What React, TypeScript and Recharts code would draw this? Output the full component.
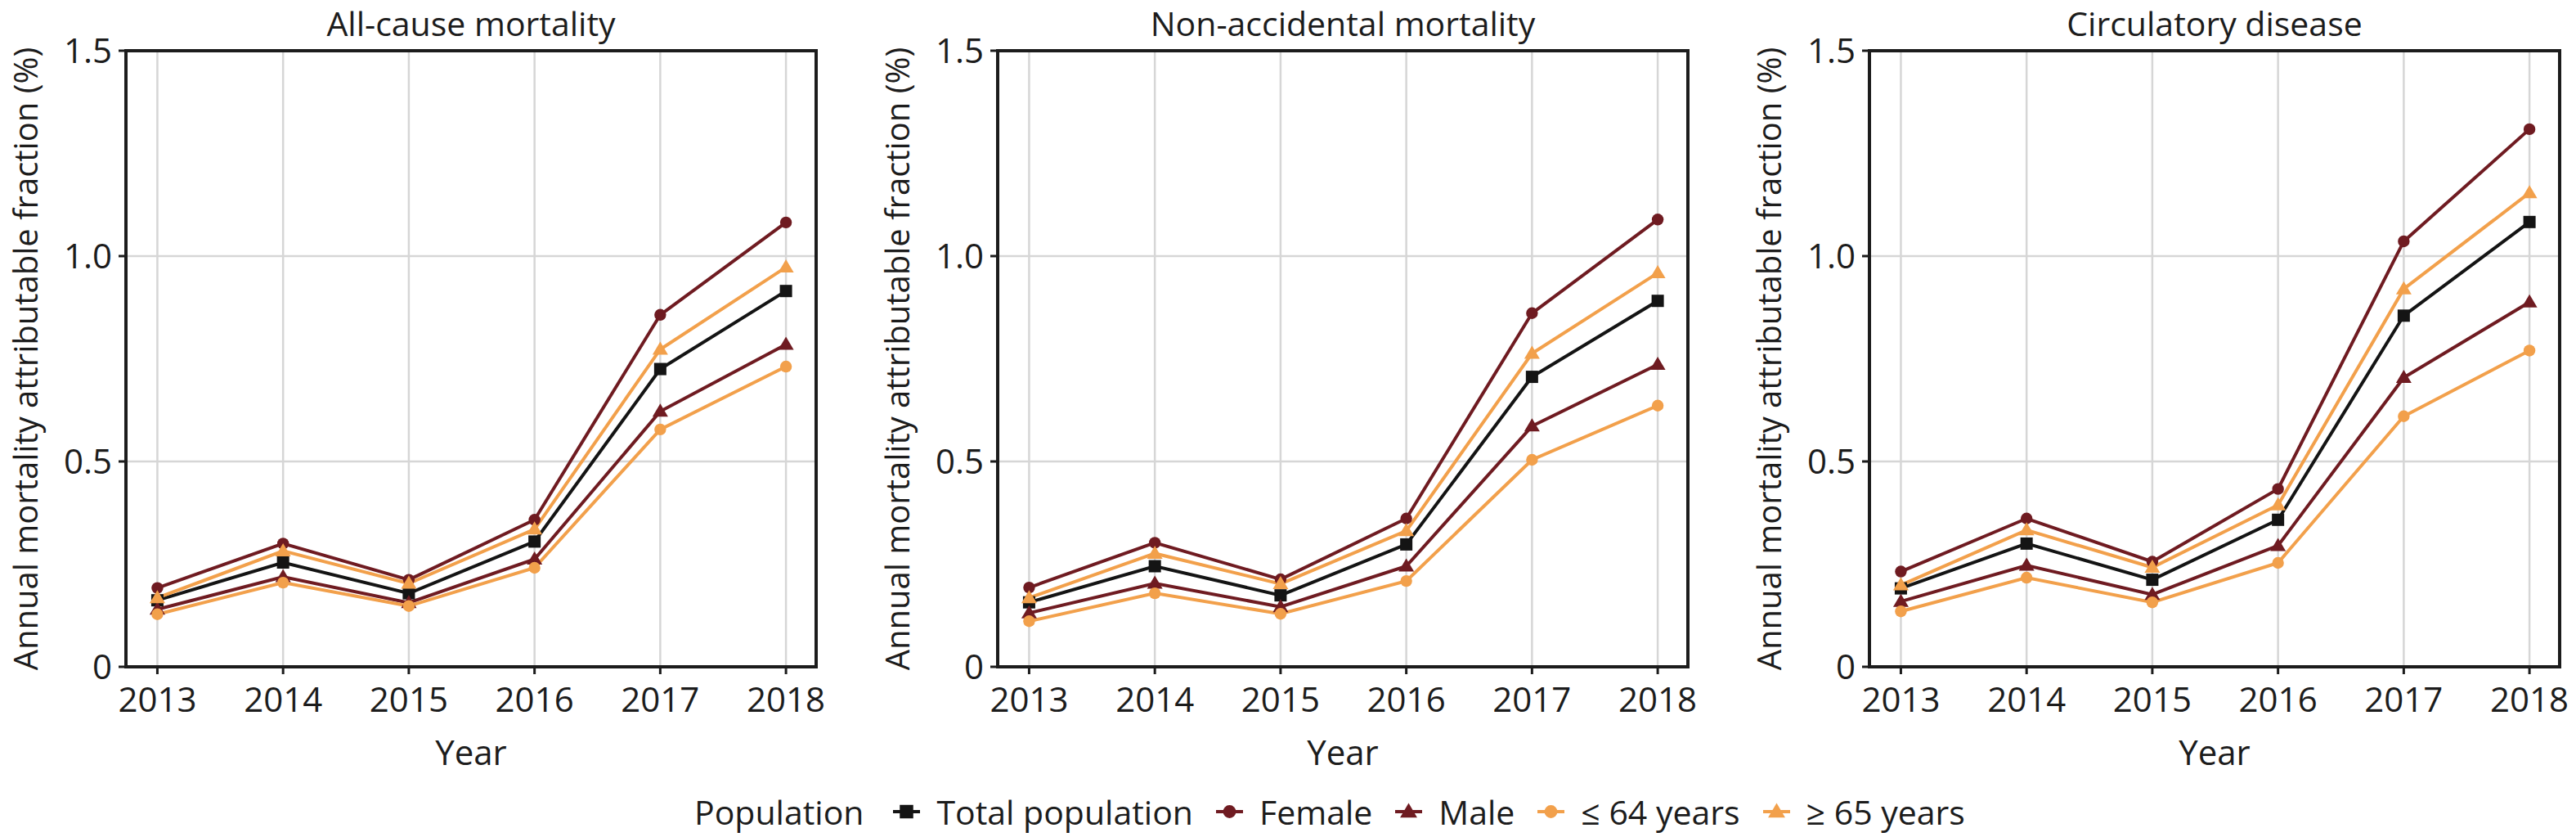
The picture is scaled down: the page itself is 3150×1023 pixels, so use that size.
import React from 'react';
import { LineChart, Line, XAxis, YAxis, CartesianGrid, ReferenceArea } from 'recharts';

const years = [2013, 2014, 2015, 2016, 2017, 2018];
const yTicks = [0, 0.5, 1.0, 1.5];
const panelTitles = ['All-cause mortality', 'Non-accidental mortality', 'Circulatory disease'];
const seriesNames = ['Total population', 'Female', 'Male', '≤ 64 years', '≥ 65 years'];

// All-cause mortality
const allTotal = [0.162, 0.254, 0.179, 0.305, 0.725, 0.915];
const allFemale = [0.192, 0.300, 0.212, 0.358, 0.857, 1.082];
const allMale = [0.140, 0.219, 0.156, 0.262, 0.622, 0.785];
const allLe64 = [0.128, 0.205, 0.148, 0.241, 0.578, 0.731];
const allGe65 = [0.168, 0.282, 0.203, 0.335, 0.773, 0.973];

// Non-accidental mortality
const nonTotal = [0.157, 0.245, 0.174, 0.298, 0.706, 0.891];
const nonFemale = [0.193, 0.302, 0.213, 0.361, 0.861, 1.089];
const nonMale = [0.131, 0.203, 0.146, 0.245, 0.586, 0.736];
const nonLe64 = [0.111, 0.179, 0.129, 0.209, 0.504, 0.636];
const nonGe65 = [0.168, 0.276, 0.202, 0.331, 0.763, 0.959];

// Circulatory disease
const cirTotal = [0.191, 0.300, 0.212, 0.358, 0.855, 1.083];
const cirFemale = [0.232, 0.361, 0.256, 0.433, 1.036, 1.309];
const cirMale = [0.159, 0.247, 0.176, 0.295, 0.704, 0.888];
const cirLe64 = [0.135, 0.217, 0.157, 0.253, 0.610, 0.770];
const cirGe65 = [0.199, 0.333, 0.242, 0.394, 0.920, 1.154];

const FONT = '"Open Sans", "Noto Sans", sans-serif';
const TEXT = '#1c1c1c';
const DARKRED = '#6f1b21';
const ORANGE = '#f2a04b';
const BLACK = '#141414';
const GRID = '#d6d6d6';
const AXIS = '#1c1c1c';

const X_MIN = 2012.75;
const X_MAX = 2018.24;
const Y_MIN = 0;
const Y_MAX = 1.5;

const seriesKeys = ['total', 'female', 'male', 'le64', 'ge65'];
const seriesColors = [BLACK, DARKRED, DARKRED, ORANGE, ORANGE];
const seriesShapes = ['square', 'circle', 'triangle', 'circle', 'triangle'];

const panels = [
  [allTotal, allFemale, allMale, allLe64, allGe65],
  [nonTotal, nonFemale, nonMale, nonLe64, nonGe65],
  [cirTotal, cirFemale, cirMale, cirLe64, cirGe65],
];

function buildRows(set: number[][]) {
  return years.map((y, i) => {
    const row: any = { year: y };
    seriesKeys.forEach((k, j) => {
      row[k] = set[j][i];
    });
    return row;
  });
}

function Marker({ shape, color, cx, cy, s = 1 }: any) {
  if (shape === 'square') {
    const h = 7.5 * s;
    return <rect x={cx - h} y={cy - h} width={2 * h} height={2 * h} fill={color} />;
  }
  if (shape === 'circle') {
    return <circle cx={cx} cy={cy} r={7.2 * s} fill={color} />;
  }
  const w = 9.5 * s;
  return (
    <polygon
      points={`${cx},${cy - 9.5 * s} ${cx - w},${cy + 6.5 * s} ${cx + w},${cy + 6.5 * s}`}
      fill={color}
    />
  );
}

const makeDot = (shape: string, color: string) => (props: any) => {
  const { cx, cy, index } = props;
  if (cx == null || cy == null) return <g key={`d-${index}`} />;
  return (
    <g key={`d-${index}`}>
      <Marker shape={shape} color={color} cx={cx} cy={cy} />
    </g>
  );
};

const CHART_H = 960;
const PLOT_TOP = 62;
const PLOT_BOTTOM = 815;
const YAXIS_W = 154;
const PLOT_W = 844;

function Panel({ idx }: { idx: number }) {
  const data = buildRows(panels[idx]);
  const rightMargin = idx === 2 ? 20 : 68;
  const width = YAXIS_W + PLOT_W + rightMargin;
  return (
    <div style={{ position: 'absolute', left: idx * 1066, top: 0, width, height: CHART_H }}>
      <LineChart
        width={width}
        height={CHART_H}
        data={data}
        margin={{ top: PLOT_TOP, right: rightMargin, bottom: 0, left: 0 }}
      >
        <CartesianGrid stroke={GRID} strokeWidth={2.5} />
        <XAxis
          dataKey="year"
          type="number"
          domain={[X_MIN, X_MAX]}
          ticks={years}
          allowDataOverflow
          height={CHART_H - PLOT_BOTTOM}
          tickSize={9}
          tickMargin={16}
          axisLine={{ stroke: AXIS, strokeWidth: 4 }}
          tickLine={{ stroke: AXIS, strokeWidth: 3 }}
          tick={{ fill: TEXT, fontSize: 42, fontFamily: FONT }}
          label={{
            content: (p: any) => {
              const vb = p.viewBox;
              return (
                <text
                  x={vb.x + vb.width / 2}
                  y={vb.y + 120}
                  textAnchor="middle"
                  fill={TEXT}
                  fontSize={42}
                  fontFamily={FONT}
                >
                  Year
                </text>
              );
            },
          }}
        />
        <YAxis
          type="number"
          domain={[Y_MIN, Y_MAX]}
          ticks={yTicks}
          allowDataOverflow
          width={YAXIS_W}
          tickSize={9}
          tickMargin={8}
          tickFormatter={(v: number) => (v === 0 ? '0' : v.toFixed(1))}
          axisLine={{ stroke: AXIS, strokeWidth: 4 }}
          tickLine={{ stroke: AXIS, strokeWidth: 3 }}
          tick={{ fill: TEXT, fontSize: 42, fontFamily: FONT }}
          label={{
            content: (p: any) => {
              const vb = p.viewBox;
              const x = vb.x + 30;
              const y = vb.y + vb.height / 2;
              return (
                <text
                  x={x}
                  y={y}
                  transform={`rotate(-90 ${x} ${y})`}
                  textAnchor="middle"
                  dominantBaseline="central"
                  fill={TEXT}
                  fontSize={40}
                  fontFamily={FONT}
                >
                  Annual mortality attributable fraction (%)
                </text>
              );
            },
          }}
        />
        <ReferenceArea
          x1={X_MIN}
          x2={X_MAX}
          y1={Y_MIN}
          y2={Y_MAX}
          ifOverflow="visible"
          fill="none"
          fillOpacity={0}
          stroke={AXIS}
          strokeWidth={4}
          label={{
            content: (p: any) => {
              const vb = p.viewBox;
              return (
                <text
                  x={vb.x + vb.width / 2}
                  y={vb.y - 18}
                  textAnchor="middle"
                  fill={TEXT}
                  fontSize={41}
                  fontFamily={FONT}
                >
                  {panelTitles[idx]}
                </text>
              );
            },
          }}
        />
        {seriesKeys.map((k, j) => (
          <Line
            key={k}
            dataKey={k}
            name={seriesNames[j]}
            stroke={seriesColors[j]}
            strokeWidth={4}
            dot={makeDot(seriesShapes[j], seriesColors[j])}
            activeDot={false}
            isAnimationActive={false}
          />
        ))}
      </LineChart>
    </div>
  );
}

function LegendRow() {
  return (
    <div
      style={{
        position: 'absolute',
        left: 849,
        top: 962,
        height: 60,
        display: 'flex',
        alignItems: 'center',
        fontFamily: FONT,
        fontSize: 41,
        color: TEXT,
        whiteSpace: 'nowrap',
      }}
    >
      <span style={{ marginRight: 36 }}>Population</span>
      {seriesNames.map((n, j) => (
        <span key={n} style={{ display: 'flex', alignItems: 'center', marginRight: j < 4 ? 28 : 0 }}>
          <svg width={33} height={30} style={{ marginRight: 20 }}>
            <line x1={0} y1={15} x2={33} y2={15} stroke={seriesColors[j]} strokeWidth={4} />
            <Marker shape={seriesShapes[j]} color={seriesColors[j]} cx={16.5} cy={15} s={1.1} />
          </svg>
          <span>{n}</span>
        </span>
      ))}
    </div>
  );
}

export default function App() {
  return (
    <div
      style={{
        position: 'absolute',
        left: 0,
        top: 0,
        width: 3150,
        height: 1023,
        overflow: 'hidden',
        background: '#ffffff',
      }}
    >
      <Panel idx={0} />
      <Panel idx={1} />
      <Panel idx={2} />
      <LegendRow />
    </div>
  );
}
